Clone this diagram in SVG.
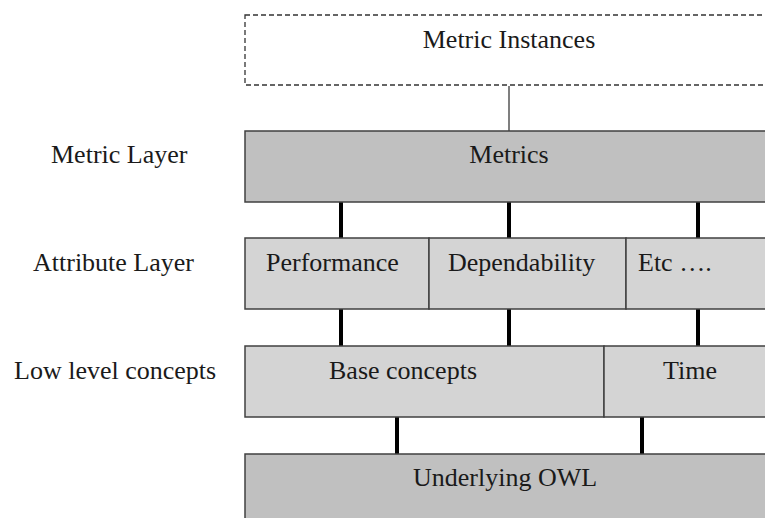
<svg xmlns="http://www.w3.org/2000/svg" width="765" height="518" viewBox="0 0 765 518">
  <style>
    .t { font-family: "Liberation Serif", "Times New Roman", serif; font-size: 26px; fill: #1a1a1a; }
    .mid { text-anchor: middle; }
    .dark { fill: #c0c0c0; stroke: #404040; stroke-width: 1.5; }
    .light { fill: #d4d4d4; stroke: #404040; stroke-width: 1.5; }
    .link { stroke: #000; stroke-width: 4; }
  </style>
  <rect width="765" height="518" fill="#fff"/>

  <!-- layer labels -->
  <g id="labels">
    <text class="t" x="51" y="163">Metric Layer</text>
    <text class="t" x="33" y="271">Attribute Layer</text>
    <text class="t" x="14" y="379">Low level concepts</text>
  </g>

  <!-- connectors -->
  <g id="connectors">
    <line x1="509" y1="86" x2="509" y2="131" stroke="#555" stroke-width="1.5"/>
    <line class="link" x1="341" y1="202" x2="341" y2="238"/>
    <line class="link" x1="509" y1="202" x2="509" y2="238"/>
    <line class="link" x1="698" y1="202" x2="698" y2="238"/>
    <line class="link" x1="341" y1="309" x2="341" y2="346"/>
    <line class="link" x1="509" y1="309" x2="509" y2="346"/>
    <line class="link" x1="698" y1="309" x2="698" y2="346"/>
    <line class="link" x1="397" y1="417" x2="397" y2="454"/>
    <line class="link" x1="642" y1="417" x2="642" y2="454"/>
  </g>

  <g id="metric-instances">
    <rect x="245" y="15" width="540" height="70" fill="#fff" stroke="#333" stroke-width="1.3" stroke-dasharray="5,3"/>
    <text class="t mid" x="509" y="48">Metric Instances</text>
  </g>

  <g id="metrics">
    <rect class="dark" x="245" y="131" width="540" height="71"/>
    <text class="t mid" x="509" y="163">Metrics</text>
  </g>

  <g id="performance">
    <rect class="light" x="245" y="238" width="184" height="71"/>
    <text class="t" x="266" y="271">Performance</text>
  </g>
  <g id="dependability">
    <rect class="light" x="429" y="238" width="197" height="71"/>
    <text class="t" x="448" y="271">Dependability</text>
  </g>
  <g id="etc">
    <rect class="light" x="626" y="238" width="159" height="71"/>
    <text class="t" x="638" y="271">Etc ….</text>
  </g>

  <g id="base-concepts">
    <rect class="light" x="245" y="346" width="359" height="71"/>
    <text class="t" x="329" y="379">Base concepts</text>
  </g>
  <g id="time">
    <rect class="light" x="604" y="346" width="181" height="71"/>
    <text class="t" x="663" y="379">Time</text>
  </g>

  <g id="underlying-owl">
    <rect class="dark" x="245" y="454" width="540" height="80"/>
    <text class="t" x="413" y="486">Underlying OWL</text>
  </g>
</svg>
